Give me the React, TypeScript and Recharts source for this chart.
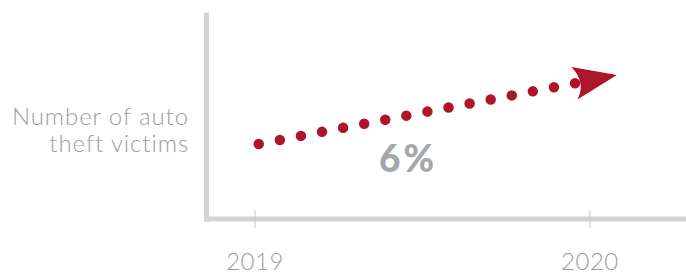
import { LineChart, Line, XAxis, YAxis } from "recharts";

// two endpoints of the trend, as an index (2019 = 100), +6%
const years = [2019, 2020];
const victimsIndex = [100, 106];
const changeLabel = "6%";
const yLabelLines = ["Number of auto", "theft victims"];

const data = years.map((year, i) => ({ year, value: victimsIndex[i] }));

const RED = "#ae152b";
const AXIS = "#d4d4d4";
const TEXT = "#9d9d9d";
const FONT = "Lato, 'Open Sans', sans-serif";

function YearTick({ x, y, payload }: any) {
  return (
    <g>
      <line x1={x} x2={x} y1={y - 9} y2={y + 9} stroke="#c9c9c9" strokeWidth={1} />
      <text
        x={x}
        y={y + 51}
        textAnchor="middle"
        fill={TEXT}
        fontFamily={FONT}
        fontWeight={300}
        fontSize={24}
        letterSpacing={0.5}
      >
        {payload.value}
      </text>
    </g>
  );
}

function ArrowDot(props: any) {
  const { cx, cy, index } = props;
  if (index !== data.length - 1) return <g key={`d-${index}`} />;
  // arrowhead with a concave back, sitting on the last point
  const d = `M ${cx - 18.5} ${cy - 13.4} L ${cx + 27} ${cy - 5.4} L ${cx - 12.5} ${cy + 19.1} Q ${cx - 3.5} ${cy + 2.4} ${cx - 18.5} ${cy - 13.4} Z`;
  return <path key={`d-${index}`} d={d} fill={RED} />;
}

function Labels() {
  return (
    <g fontFamily={FONT}>
      <text textAnchor="end" fill={TEXT} fontWeight={300} fontSize={24} letterSpacing={0.9}>
        <tspan x={189} y={125}>{yLabelLines[0]}</tspan>
        <tspan x={189} y={152}>{yLabelLines[1]}</tspan>
      </text>
      <text x={408} y={172} textAnchor="middle" fill="#a6a7a9" fontWeight={900} fontSize={37} letterSpacing={3}>
        {changeLabel}
      </text>
    </g>
  );
}

export default function App() {
  return (
    <div style={{ position: "absolute", left: 0, top: 0, width: 686, height: 274, background: "#fff" }}>
      <LineChart width={686} height={274} data={data} margin={{ top: 15, right: 0, bottom: 0, left: 0.5 }}>
        <XAxis
          dataKey="year"
          type="number"
          domain={[2018.855, 2020.287]}
          allowDataOverflow
          ticks={years}
          height={55}
          tickSize={0}
          tickMargin={0}
          tick={<YearTick />}
          axisLine={{ stroke: AXIS, strokeWidth: 5, strokeLinecap: "square" }}
          tickLine={false}
        />
        <YAxis
          type="number"
          domain={[93.07, 112.1]}
          allowDataOverflow
          width={206}
          tick={false}
          tickLine={false}
          axisLine={{ stroke: AXIS, strokeWidth: 5, strokeLinecap: "square" }}
          label={{ content: () => <Labels /> }}
        />
        <Line
          type="linear"
          dataKey="value"
          stroke={RED}
          strokeWidth={10.5}
          strokeLinecap="round"
          strokeDasharray="0 21.47"
          strokeDashoffset={17.7}
          dot={ArrowDot}
          activeDot={false}
          isAnimationActive={false}
        />
      </LineChart>
    </div>
  );
}
